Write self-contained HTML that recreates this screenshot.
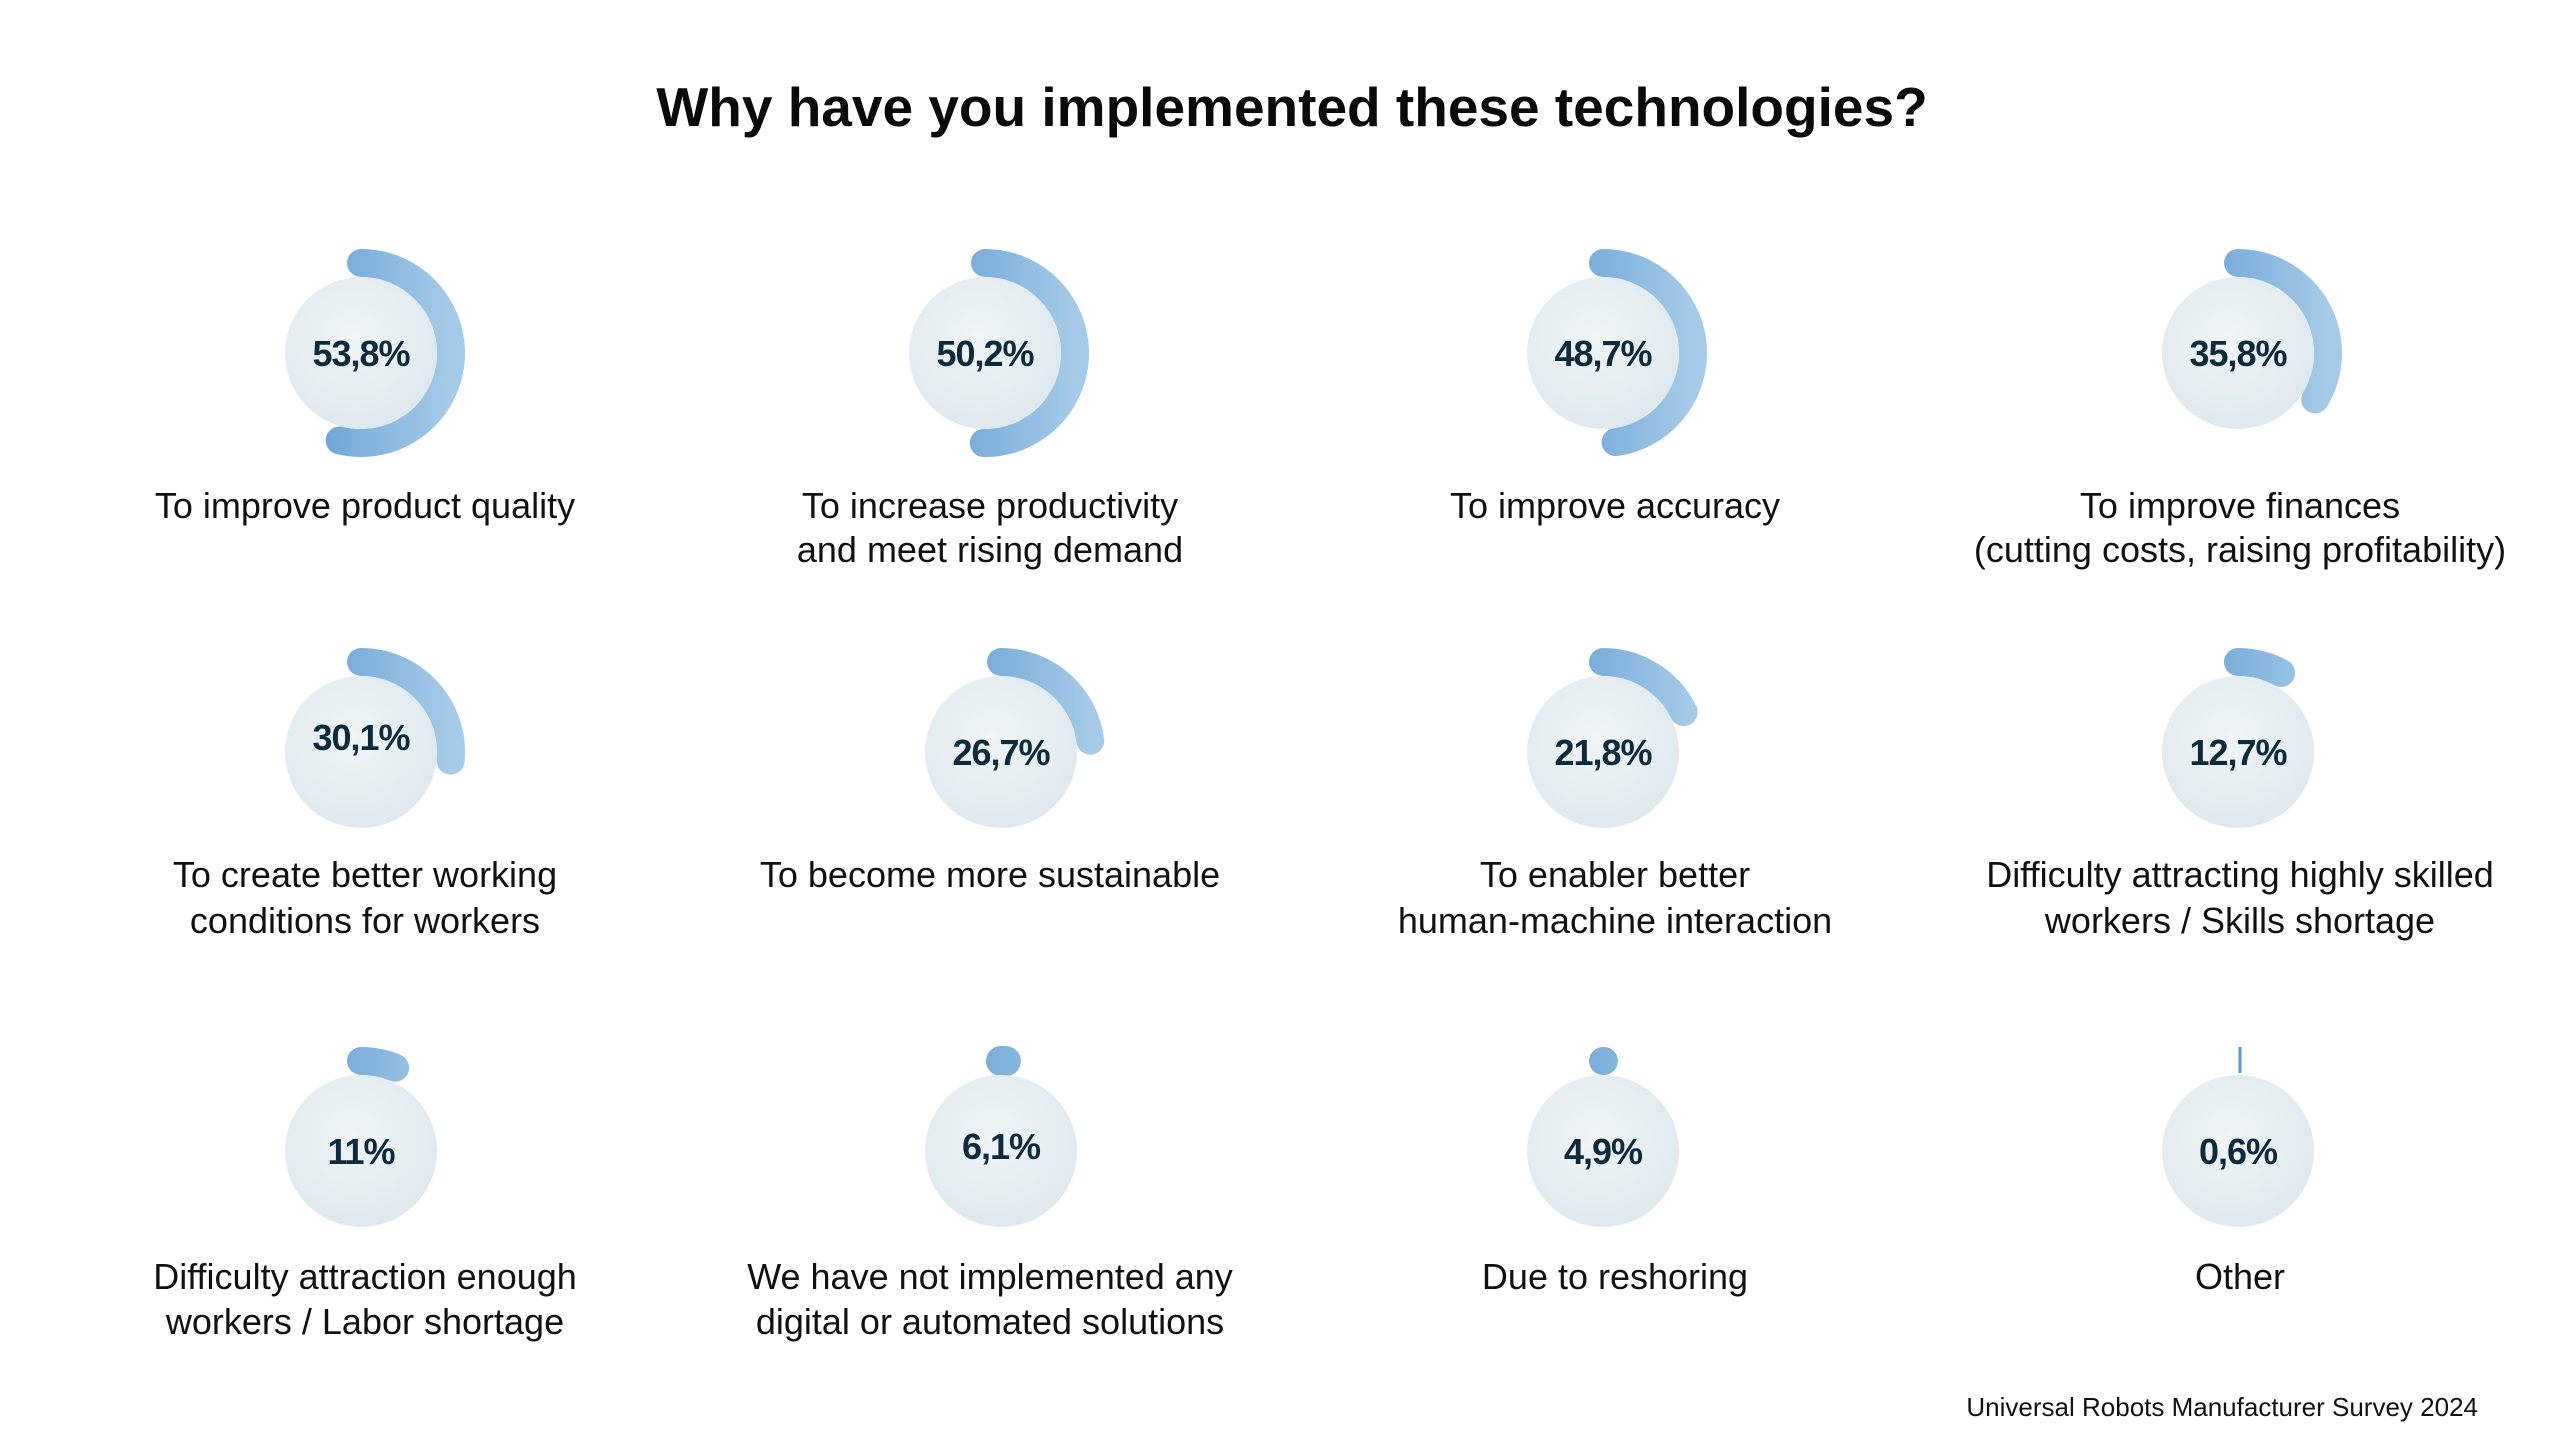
<!DOCTYPE html>
<html><head><meta charset="utf-8"><style>
html,body{margin:0;padding:0;background:#fff;width:2560px;height:1440px;overflow:hidden}
svg{display:block}
text{font-family:"Liberation Sans",sans-serif}
.t{font-size:55px;font-weight:bold;fill:#0a0a0a}
.p{font-size:36px;font-weight:bold;fill:#0d2b3a;letter-spacing:-1px}
.l{font-size:36px;fill:#111}
.f{font-size:26px;fill:#111}
</style></head><body>
<svg width="2560" height="1440" viewBox="0 0 2560 1440">
<defs>
<linearGradient id="g" x1="0" y1="0" x2="0" y2="1"><stop offset="0" stop-color="#5a98cf"/><stop offset="1" stop-color="#a5cbe8"/></linearGradient>
<radialGradient id="c" cx="0.45" cy="0.4" r="0.65"><stop offset="0" stop-color="#f0f5f7"/><stop offset="1" stop-color="#dde8ed"/></radialGradient>
<g id="disc"><circle r="76" fill="url(#c)"/></g>
</defs>
<text class="t" x="1292" y="126" text-anchor="middle">Why have you implemented these technologies?</text>

<!-- Row 1 -->
<g transform="translate(361,353)"><circle r="90" fill="none" stroke="url(#g)" stroke-width="28" stroke-linecap="round" stroke-dasharray="304.2 1000" transform="rotate(-90)"/><use href="#disc"/><text class="p" y="13" text-anchor="middle">53,8%</text></g>
<g transform="translate(985,353)"><circle r="90" fill="none" stroke="url(#g)" stroke-width="28" stroke-linecap="round" stroke-dasharray="283.9 1000" transform="rotate(-90)"/><use href="#disc"/><text class="p" y="13" text-anchor="middle">50,2%</text></g>
<g transform="translate(1603,353)"><circle r="90" fill="none" stroke="url(#g)" stroke-width="28" stroke-linecap="round" stroke-dasharray="270 1000" transform="rotate(-90)"/><use href="#disc"/><text class="p" y="13" text-anchor="middle">48,7%</text></g>
<g transform="translate(2238,353)"><circle r="90" fill="none" stroke="url(#g)" stroke-width="28" stroke-linecap="round" stroke-dasharray="190 1000" transform="rotate(-90)"/><use href="#disc"/><text class="p" y="13" text-anchor="middle">35,8%</text></g>

<text class="l" x="365" y="518" text-anchor="middle">To improve product quality</text>
<text class="l" x="990" y="518" text-anchor="middle">To increase productivity</text>
<text class="l" x="990" y="562" text-anchor="middle">and meet rising demand</text>
<text class="l" x="1615" y="518" text-anchor="middle">To improve accuracy</text>
<text class="l" x="2240" y="518" text-anchor="middle">To improve finances</text>
<text class="l" x="2240" y="562" text-anchor="middle">(cutting costs, raising profitability)</text>

<!-- Row 2 -->
<g transform="translate(361,752)"><circle r="90" fill="none" stroke="url(#g)" stroke-width="28" stroke-linecap="round" stroke-dasharray="150 1000" transform="rotate(-90)"/><use href="#disc"/><text class="p" y="-2" text-anchor="middle">30,1%</text></g>
<g transform="translate(1001,752)"><circle r="90" fill="none" stroke="url(#g)" stroke-width="28" stroke-linecap="round" stroke-dasharray="130 1000" transform="rotate(-90)"/><use href="#disc"/><text class="p" y="13" text-anchor="middle">26,7%</text></g>
<g transform="translate(1603,752)"><circle r="90" fill="none" stroke="url(#g)" stroke-width="28" stroke-linecap="round" stroke-dasharray="100 1000" transform="rotate(-90)"/><use href="#disc"/><text class="p" y="13" text-anchor="middle">21,8%</text></g>
<g transform="translate(2238,752)"><circle r="90" fill="none" stroke="url(#g)" stroke-width="28" stroke-linecap="round" stroke-dasharray="45 1000" transform="rotate(-90)"/><use href="#disc"/><text class="p" y="13" text-anchor="middle">12,7%</text></g>

<text class="l" x="365" y="887" text-anchor="middle">To create better working</text>
<text class="l" x="365" y="933" text-anchor="middle">conditions for workers</text>
<text class="l" x="990" y="887" text-anchor="middle">To become more sustainable</text>
<text class="l" x="1615" y="887" text-anchor="middle">To enabler better</text>
<text class="l" x="1615" y="933" text-anchor="middle">human-machine interaction</text>
<text class="l" x="2240" y="887" text-anchor="middle">Difficulty attracting highly skilled</text>
<text class="l" x="2240" y="933" text-anchor="middle">workers / Skills shortage</text>

<!-- Row 3 -->
<g transform="translate(361,1151)"><circle r="90" fill="none" stroke="url(#g)" stroke-width="28" stroke-linecap="round" stroke-dasharray="35 1000" transform="rotate(-90)"/><use href="#disc"/><text class="p" y="13" text-anchor="middle">11%</text></g>
<g transform="translate(1001,1151)"><circle r="90" fill="none" stroke="url(#g)" stroke-width="30" stroke-linecap="round" stroke-dasharray="5 1000" transform="rotate(-90)"/><use href="#disc"/><text class="p" y="8" text-anchor="middle">6,1%</text></g>
<g transform="translate(1603,1151)"><circle r="90" fill="none" stroke="url(#g)" stroke-width="28" stroke-linecap="round" stroke-dasharray="1 1000" transform="rotate(-90)"/><use href="#disc"/><text class="p" y="13" text-anchor="middle">4,9%</text></g>
<g transform="translate(2238,1151)"><line x1="2" y1="-104" x2="2" y2="-78" stroke="#5a98cf" stroke-width="3"/><use href="#disc"/><text class="p" y="13" text-anchor="middle">0,6%</text></g>

<text class="l" x="365" y="1289" text-anchor="middle">Difficulty attraction enough</text>
<text class="l" x="365" y="1334" text-anchor="middle">workers / Labor shortage</text>
<text class="l" x="990" y="1289" text-anchor="middle">We have not implemented any</text>
<text class="l" x="990" y="1334" text-anchor="middle">digital or automated solutions</text>
<text class="l" x="1615" y="1289" text-anchor="middle">Due to reshoring</text>
<text class="l" x="2240" y="1289" text-anchor="middle">Other</text>

<text class="f" x="2478" y="1416" text-anchor="end">Universal Robots Manufacturer Survey 2024</text>
</svg>
</body></html>
